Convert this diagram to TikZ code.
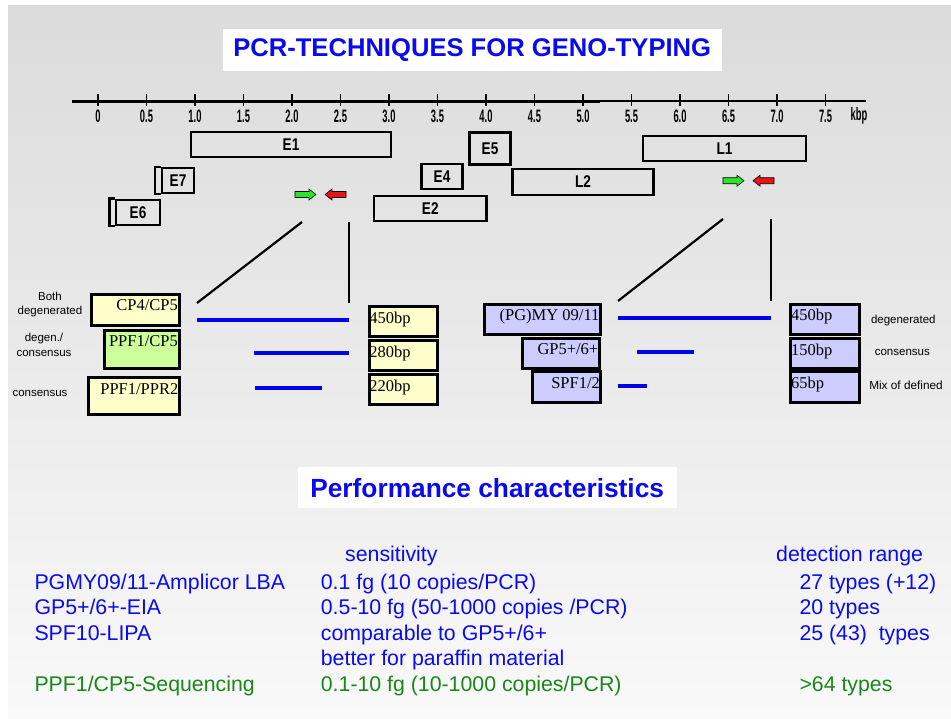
\documentclass[tikz,border=0pt]{standalone}
\usepackage{fontspec}
\setmainfont{Liberation Sans}
\newfontfamily\timesfont{Liberation Serif}
\definecolor{bgtop}{RGB}{219,219,219}
\definecolor{bgbottom}{RGB}{249,249,249}
\definecolor{ttlblue}{RGB}{10,10,240}
\definecolor{txtgreen}{RGB}{25,135,25}
\definecolor{lineblue}{RGB}{0,0,235}
\definecolor{boxyellow}{RGB}{255,255,204}
\definecolor{boxgreen}{RGB}{204,255,153}
\definecolor{boxlilac}{RGB}{204,204,255}
\definecolor{fwdgreen}{RGB}{40,230,40}
\definecolor{revred}{RGB}{235,20,20}

\begin{document}
\begin{tikzpicture}[x=1pt,y=-1pt,
  genebox/.style={draw,line width=2.4pt,inner sep=0pt,font=\fontsize{17}{19}\selectfont\bfseries},
  primerbox/.style={draw,line width=2.8pt,anchor=north west,inner sep=0pt},
  boxtext/.style={inner sep=0pt,font=\timesfont\fontsize{16.5}{19}\selectfont},
  smalltext/.style={inner sep=0pt,align=center,font=\fontsize{11.5}{14.5}\selectfont},
  tabtext/.style={inner sep=0pt,anchor=base west,text=ttlblue,font=\fontsize{21.3}{25}\selectfont},
  amplicon/.style={lineblue,line width=4pt},
  zoomline/.style={line width=2.2pt}]
\useasboundingbox (0,0) rectangle (951,718);
\fill[white] (0,0) rectangle (951,718);
\shade[top color=bgtop,bottom color=bgbottom] (8,5) rectangle (951,718);

% title
\node[fill=white,minimum width=499,minimum height=42,inner sep=0pt,text=ttlblue,
  font=\fontsize{25.6}{30}\selectfont\bfseries] (title) at (472.2,49.9) {PCR-TECHNIQUES FOR GENO-TYPING};

% kbp scale
\draw[line width=2.6pt] (72,101.5) -- (600,101.5);
\draw[line width=2.4pt] (600,100.8) -- (866,100.8);
\foreach \k/\lab in {0/0,0.5/0.5,1/1.0,1.5/1.5,2/2.0,2.5/2.5,3/3.0,3.5/3.5,4/4.0,4.5/4.5,5/5.0,5.5/5.5,6/6.0,6.5/6.5,7/7.0,7.5/7.5}{
  \draw[line width=1.6pt] (98+97*\k,94) -- (98+97*\k,106);
  \node[inner sep=0pt,font=\fontsize{18}{20}\selectfont\bfseries] (tick\k) at (98+97*\k,116) {\scalebox{0.52}[1]{\lab}};
}
\node[inner sep=0pt,font=\fontsize{18}{20}\selectfont\bfseries] (kbp) at (859,116) {\scalebox{0.52}[1]{kbp}};

% genome map
\node[genebox,minimum width=200,minimum height=25] (e1) at (291,144.7) {\scalebox{0.8}[1]{E1}};
\node[genebox,minimum width=41,minimum height=32] (e5) at (490,148.5) {\raisebox{-3pt}{\scalebox{0.8}[1]{E5}}};
\node[genebox,minimum width=163,minimum height=25] (l1) at (724.5,148.3) {\scalebox{0.8}[1]{L1}};
\node[genebox,minimum width=32,minimum height=25] (e7) at (178,180.5) {\raisebox{-1.5pt}{\scalebox{0.8}[1]{E7}}};
\draw[line width=2.4pt] (e7.north west) -- ++(-6,0) |- (e7.south west);
\node[genebox,minimum width=41,minimum height=25] (e4) at (442,176.5) {\scalebox{0.8}[1]{E4}};
\node[genebox,minimum width=141,minimum height=25.7] (l2) at (583,182) {\scalebox{0.8}[1]{L2}};
\node[genebox,minimum width=44,minimum height=25.3] (e6) at (138,212.4) {\raisebox{-1pt}{\scalebox{0.8}[1]{E6}}};
\draw[line width=2.4pt] (e6.north west) -- ++(-5.3,0) |- (e6.south west);
\node[genebox,minimum width=112.7,minimum height=25.3] (e2) at (430.3,208.4) {\scalebox{0.8}[1]{E2}};

% primer pairs
\foreach \gx/\cy in {295/194.5,723/180.7}{
  \filldraw[fill=fwdgreen,line width=0.6pt] (\gx,\cy-3) -- (\gx+14,\cy-3) -- (\gx+14,\cy-5.5)
    -- (\gx+21,\cy) -- (\gx+14,\cy+5.5) -- (\gx+14,\cy+3) -- (\gx,\cy+3) -- cycle;
  \filldraw[fill=revred,line width=0.6pt] (\gx+51,\cy-3) -- (\gx+37,\cy-3) -- (\gx+37,\cy-5.5)
    -- (\gx+30,\cy) -- (\gx+37,\cy+5.5) -- (\gx+37,\cy+3) -- (\gx+51,\cy+3) -- cycle;
}
\draw[zoomline] (302,222) -- (197,303);
\draw[zoomline] (349,222) -- (349,303);
\draw[zoomline] (723,219) -- (618,301);
\draw[zoomline] (771,219) -- (771,301);

% left: primers and amplicons
\node[primerbox,fill=boxyellow,minimum width=87.7,minimum height=30.7] (cp45) at (90,293.3) {};
\node[primerbox,fill=boxgreen,minimum width=75,minimum height=38.3] (ppfcp) at (102.7,329) {};
\node[primerbox,fill=boxyellow,minimum width=90.4,minimum height=37] (ppfppr) at (87.3,376) {};
\node[boxtext,anchor=north east] (cp45t) at ([xshift=-2.5pt,yshift=-6pt]cp45.north east) {CP4/CP5};
\node[boxtext,anchor=north east] (ppfcpt) at ([xshift=-2.5pt,yshift=-6pt]ppfcp.north east) {PPF1/CP5};
\node[boxtext,anchor=north east] (ppfpprt) at ([xshift=-2pt,yshift=-7pt]ppfppr.north east) {PPF1/PPR2};
\node[primerbox,fill=boxyellow,minimum width=68.3,minimum height=30] (lbpa) at (367.7,305) {};
\node[primerbox,fill=boxyellow,minimum width=68.3,minimum height=30] (lbpb) at (367.7,339.3) {};
\node[primerbox,fill=boxyellow,minimum width=68.3,minimum height=30] (lbpc) at (367.7,373.3) {};
\node[boxtext,anchor=north west] (lbpat) at ([xshift=1.5pt,yshift=-7pt]lbpa.north west) {450bp};
\node[boxtext,anchor=north west] (lbpbt) at ([xshift=1.5pt,yshift=-7pt]lbpb.north west) {280bp};
\node[boxtext,anchor=north west] (lbpct) at ([xshift=1.5pt,yshift=-7pt]lbpc.north west) {220bp};
\draw[amplicon] (196.7,320) -- (349.3,320);
\draw[amplicon] (254,352.7) -- (349.3,352.7);
\draw[amplicon] (255,388.3) -- (322,388.3);
\node[smalltext] (bothdeg) at (50,304.5) {Both\\degenerated};
\node[smalltext] (degcons) at (44,345) {degen./\\consensus};
\node[smalltext] (cons) at (40,393) {consensus};

% right: primers and amplicons
\node[primerbox,fill=boxlilac,minimum width=116.6,minimum height=30] (pgmy) at (482.7,302.7) {};
\node[primerbox,fill=boxlilac,minimum width=76.7,minimum height=30] (gp) at (521,336.7) {};
\node[primerbox,fill=boxlilac,minimum width=68.3,minimum height=30.7] (spf) at (531,370) {};
\node[boxtext,anchor=north east] (pgmyt) at ([xshift=-2.5pt,yshift=-6pt]pgmy.north east) {(PG)MY 09/11};
\node[boxtext,anchor=north east] (gpt) at ([xshift=-2pt,yshift=-7pt]gp.north east) {GP5+/6+};
\node[boxtext,anchor=north east] (spft) at ([xshift=-2pt,yshift=-7.5pt]spf.north east) {SPF1/2};
\node[primerbox,fill=boxlilac,minimum width=69,minimum height=30] (rbpa) at (789.3,302.7) {};
\node[primerbox,fill=boxlilac,minimum width=69,minimum height=30] (rbpb) at (789.3,336.7) {};
\node[primerbox,fill=boxlilac,minimum width=69,minimum height=30.7] (rbpc) at (789.3,370) {};
\node[boxtext,anchor=north west] (rbpat) at ([xshift=1.5pt,yshift=-6pt]rbpa.north west) {450bp};
\node[boxtext,anchor=north west] (rbpbt) at ([xshift=1.5pt,yshift=-7pt]rbpb.north west) {150bp};
\node[boxtext,anchor=north west] (rbpct) at ([xshift=1.5pt,yshift=-7pt]rbpc.north west) {65bp};
\draw[amplicon] (617.7,317.7) -- (771,317.7);
\draw[amplicon] (637.3,351.7) -- (694.3,351.7);
\draw[amplicon] (617.7,386) -- (646.7,386);
\node[smalltext] (rdeg) at (903.3,321) {degenerated};
\node[smalltext] (rcons) at (902.3,352.7) {consensus};
\node[smalltext,font=\fontsize{11.8}{14.5}\selectfont] (rmix) at (906,385) {Mix of defined};

% performance table
\node[fill=white,minimum width=379,minimum height=41,inner sep=0pt,text=ttlblue,
  font=\fontsize{26.3}{30}\selectfont\bfseries] (perf) at (487.2,487.8) {Performance characteristics};
\node[tabtext] (hsens) at (345,561.5) {sensitivity};
\node[tabtext] (hrange) at (776,561.5) {detection range};
\node[tabtext] (pgmyrow) at (34.3,589) {PGMY09/11-Amplicor LBA};
\node[tabtext] (pgmysens) at (320.7,589) {0.1 fg (10 copies/PCR)};
\node[tabtext] (pgmyrange) at (799.3,589) {27 types (+12)};
\node[tabtext] (gprow) at (34.3,614) {GP5+/6+-EIA};
\node[tabtext] (gpsens) at (320.7,614) {0.5-10 fg (50-1000 copies /PCR)};
\node[tabtext] (gprange) at (799.3,614) {20 types};
\node[tabtext] (spfrow) at (34.3,640) {SPF10-LIPA};
\node[tabtext] (spfsens) at (320.7,640) {comparable to GP5+/6+};
\node[tabtext] (spfrange) at (799.3,640) {25 (43)\ \ types};
\node[tabtext] (spfsensb) at (320.7,665) {better for paraffin material};
\node[tabtext,text=txtgreen] (seqrow) at (34.3,691) {PPF1/CP5-Sequencing};
\node[tabtext,text=txtgreen] (seqsens) at (320.7,691) {0.1-10 fg (10-1000 copies/PCR)};
\node[tabtext,text=txtgreen] (seqrange) at (799.3,691) {>64 types};
\end{tikzpicture}
\end{document}
